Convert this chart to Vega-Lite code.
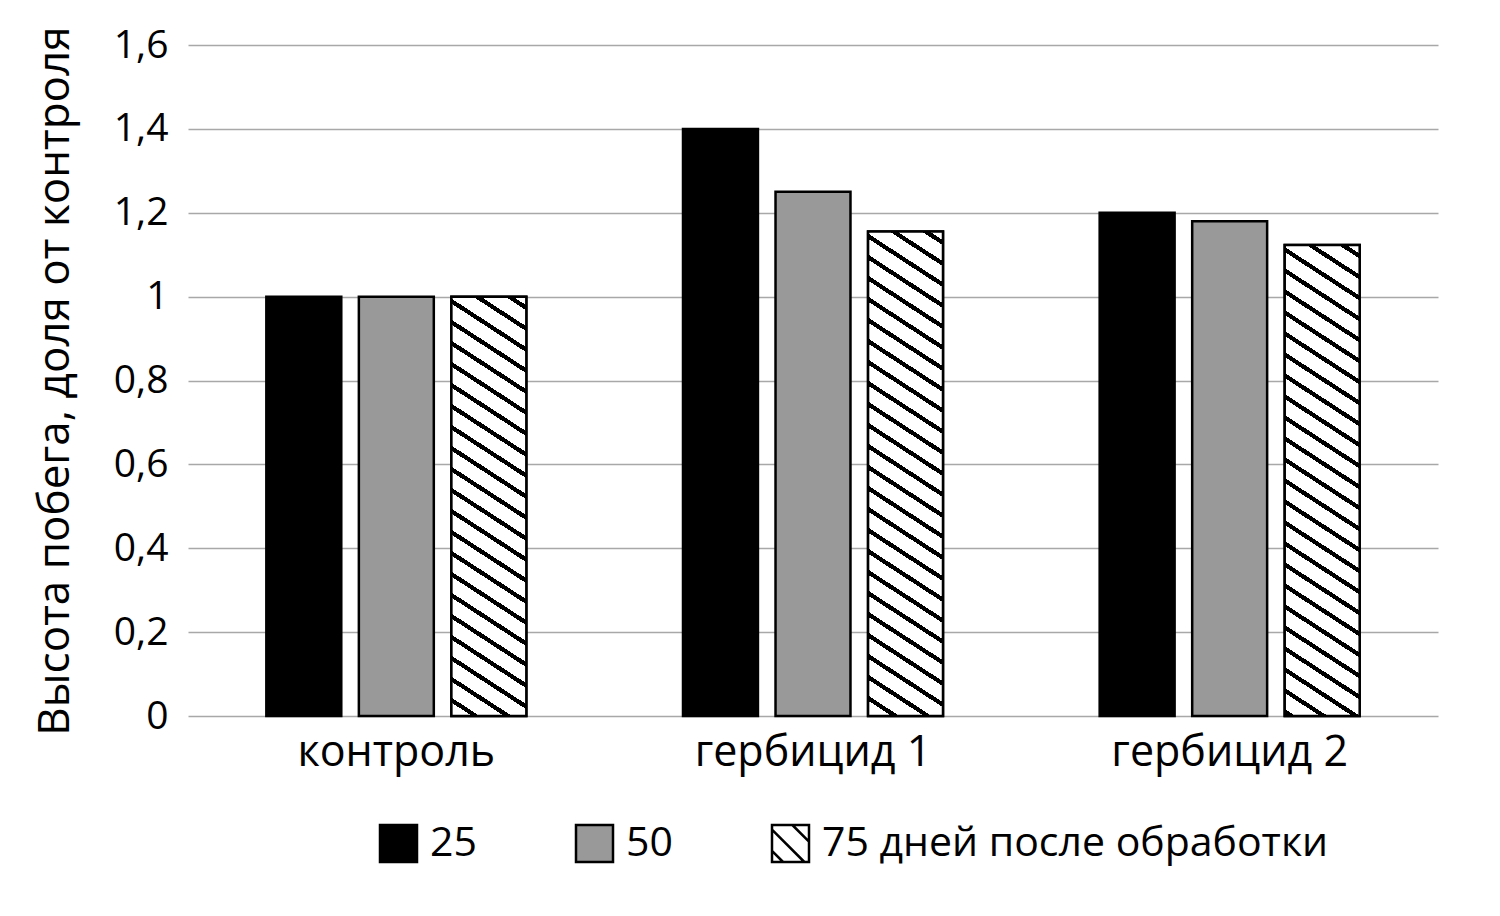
{
  "$schema": "https://vega.github.io/schema/vega-lite/v6.json",
  "description": "Высота побега после обработки гербицидами, доля от контроля",
  "width": 1250,
  "height": 671,
  "autosize": {"type": "none"},
  "padding": {"left": 188, "top": 45, "right": 62, "bottom": 200},
  "config": {
    "view": {"stroke": null},
    "font": "Open Sans",
    "axis": {"labelColor": "#000000", "titleColor": "#000000", "labelFont": "Open Sans", "titleFont": "Open Sans"},
    "legend": {"labelColor": "#000000", "labelFont": "Open Sans"}
  },
  "data": {
    "values": [
      {"group": "контроль", "series": "25", "value": 1},
      {"group": "контроль", "series": "50", "value": 1},
      {"group": "контроль", "series": "75 дней после обработки", "value": 1},
      {"group": "гербицид 1", "series": "25", "value": 1.4},
      {"group": "гербицид 1", "series": "50", "value": 1.25},
      {"group": "гербицид 1", "series": "75 дней после обработки", "value": 1.155},
      {"group": "гербицид 2", "series": "25", "value": 1.2},
      {"group": "гербицид 2", "series": "50", "value": 1.18},
      {"group": "гербицид 2", "series": "75 дней после обработки", "value": 1.123}
    ]
  },
  "encoding": {
    "x": {
      "field": "group",
      "type": "nominal",
      "sort": ["контроль", "гербицид 1", "гербицид 2"],
      "scale": {"paddingInner": 0.376, "paddingOuter": 0.188},
      "axis": {
        "title": null,
        "domain": false,
        "ticks": false,
        "tickSize": 0,
        "labelAngle": 0,
        "labelFontSize": 43,
        "labelLimit": 600,
        "labelPadding": 49,
        "labelBaseline": "alphabetic"
      }
    },
    "xOffset": {
      "field": "series",
      "type": "nominal",
      "scale": {"domain": ["25", "50", "75 дней после обработки"], "paddingInner": 0.19, "paddingOuter": 0}
    },
    "y": {
      "field": "value",
      "type": "quantitative",
      "scale": {"domain": [0, 1.6]},
      "axis": {
        "values": [0, 0.2, 0.4, 0.6, 0.8, 1, 1.2, 1.4, 1.6],
        "labelExpr": "replace(format(datum.value, '~g'), '.', ',')",
        "title": "Высота побега, доля от контроля",
        "titleFontSize": 44,
        "titleFontWeight": "normal",
        "titleX": -120,
        "titleBaseline": "alphabetic",
        "grid": true,
        "gridColor": "#a8a8a8",
        "gridWidth": 1.5,
        "domain": false,
        "ticks": false,
        "tickSize": 0,
        "labelPadding": 20,
        "labelFontSize": 39
      }
    }
  },
  "layer": [
    {
      "mark": {"type": "bar", "stroke": "#000000", "strokeWidth": 2.5},
      "encoding": {
        "fill": {
          "field": "series",
          "type": "nominal",
          "scale": {"domain": ["25", "50", "75 дней после обработки"], "range": ["#000000", "#999999", "#ffffff"]},
          "legend": {
            "title": null,
            "orient": "none",
            "legendX": 190,
            "legendY": 778,
            "direction": "horizontal",
            "padding": 0,
            "symbolSize": 1369,
            "symbolStrokeWidth": 2.5,
            "symbolStrokeColor": "#000000",
            "labelFontSize": 41,
            "labelOffset": 11,
            "labelLimit": 1000,
            "columnPadding": 94,
            "encode": {
              "symbols": {
                "update": {
                  "shape": {"signal": "datum.value === '75 дней после обработки' ? 'M-1,-1H1V1H-1Z M0.1,-1L1,-0.1 M-1,-0.75L0.75,1 M-1,0.4L-0.4,1' : 'square'"},
                  "stroke": {"value": "#000000"},
                  "strokeWidth": {"value": 2.5}
                }
              }
            }
          }
        }
      }
    },
    {
      "transform": [{"filter": "datum.group === 'контроль' && datum.series === '75 дней после обработки'"}],
      "mark": {
        "type": "bar", "stroke": "#000000", "strokeWidth": 2.5,
        "fill": {
          "gradient": "linear", "x1": 1, "y1": 0, "x2": 0.84687, "y2": 1.31742,
          "stops": [
            {"offset": 0, "color": "#ffffff"},
            {"offset": 0.0155, "color": "#ffffff"}, {"offset": 0.0155, "color": "#000000"}, {"offset": 0.0245, "color": "#000000"}, {"offset": 0.0245, "color": "#ffffff"},
            {"offset": 0.053, "color": "#ffffff"}, {"offset": 0.053, "color": "#000000"}, {"offset": 0.062, "color": "#000000"}, {"offset": 0.062, "color": "#ffffff"},
            {"offset": 0.0905, "color": "#ffffff"}, {"offset": 0.0905, "color": "#000000"}, {"offset": 0.0995, "color": "#000000"}, {"offset": 0.0995, "color": "#ffffff"},
            {"offset": 0.128, "color": "#ffffff"}, {"offset": 0.128, "color": "#000000"}, {"offset": 0.137, "color": "#000000"}, {"offset": 0.137, "color": "#ffffff"},
            {"offset": 0.1655, "color": "#ffffff"}, {"offset": 0.1655, "color": "#000000"}, {"offset": 0.1745, "color": "#000000"}, {"offset": 0.1745, "color": "#ffffff"},
            {"offset": 0.203, "color": "#ffffff"}, {"offset": 0.203, "color": "#000000"}, {"offset": 0.212, "color": "#000000"}, {"offset": 0.212, "color": "#ffffff"},
            {"offset": 0.2405, "color": "#ffffff"}, {"offset": 0.2405, "color": "#000000"}, {"offset": 0.2495, "color": "#000000"}, {"offset": 0.2495, "color": "#ffffff"},
            {"offset": 0.278, "color": "#ffffff"}, {"offset": 0.278, "color": "#000000"}, {"offset": 0.287, "color": "#000000"}, {"offset": 0.287, "color": "#ffffff"},
            {"offset": 0.3155, "color": "#ffffff"}, {"offset": 0.3155, "color": "#000000"}, {"offset": 0.3245, "color": "#000000"}, {"offset": 0.3245, "color": "#ffffff"},
            {"offset": 0.353, "color": "#ffffff"}, {"offset": 0.353, "color": "#000000"}, {"offset": 0.362, "color": "#000000"}, {"offset": 0.362, "color": "#ffffff"},
            {"offset": 0.3905, "color": "#ffffff"}, {"offset": 0.3905, "color": "#000000"}, {"offset": 0.3995, "color": "#000000"}, {"offset": 0.3995, "color": "#ffffff"},
            {"offset": 0.428, "color": "#ffffff"}, {"offset": 0.428, "color": "#000000"}, {"offset": 0.437, "color": "#000000"}, {"offset": 0.437, "color": "#ffffff"},
            {"offset": 0.4655, "color": "#ffffff"}, {"offset": 0.4655, "color": "#000000"}, {"offset": 0.4745, "color": "#000000"}, {"offset": 0.4745, "color": "#ffffff"},
            {"offset": 0.503, "color": "#ffffff"}, {"offset": 0.503, "color": "#000000"}, {"offset": 0.512, "color": "#000000"}, {"offset": 0.512, "color": "#ffffff"},
            {"offset": 0.5405, "color": "#ffffff"}, {"offset": 0.5405, "color": "#000000"}, {"offset": 0.5495, "color": "#000000"}, {"offset": 0.5495, "color": "#ffffff"},
            {"offset": 0.578, "color": "#ffffff"}, {"offset": 0.578, "color": "#000000"}, {"offset": 0.587, "color": "#000000"}, {"offset": 0.587, "color": "#ffffff"},
            {"offset": 0.6155, "color": "#ffffff"}, {"offset": 0.6155, "color": "#000000"}, {"offset": 0.6245, "color": "#000000"}, {"offset": 0.6245, "color": "#ffffff"},
            {"offset": 0.653, "color": "#ffffff"}, {"offset": 0.653, "color": "#000000"}, {"offset": 0.662, "color": "#000000"}, {"offset": 0.662, "color": "#ffffff"},
            {"offset": 0.6905, "color": "#ffffff"}, {"offset": 0.6905, "color": "#000000"}, {"offset": 0.6995, "color": "#000000"}, {"offset": 0.6995, "color": "#ffffff"},
            {"offset": 0.728, "color": "#ffffff"}, {"offset": 0.728, "color": "#000000"}, {"offset": 0.737, "color": "#000000"}, {"offset": 0.737, "color": "#ffffff"},
            {"offset": 0.7655, "color": "#ffffff"}, {"offset": 0.7655, "color": "#000000"}, {"offset": 0.7745, "color": "#000000"}, {"offset": 0.7745, "color": "#ffffff"},
            {"offset": 0.803, "color": "#ffffff"}, {"offset": 0.803, "color": "#000000"}, {"offset": 0.812, "color": "#000000"}, {"offset": 0.812, "color": "#ffffff"},
            {"offset": 1, "color": "#ffffff"}
          ]
        }
      }
    },
    {
      "transform": [{"filter": "datum.group === 'гербицид 1' && datum.series === '75 дней после обработки'"}],
      "mark": {
        "type": "bar", "stroke": "#000000", "strokeWidth": 2.5,
        "fill": {
          "gradient": "linear", "x1": 1, "y1": 0, "x2": 0.88482, "y2": 1.14449,
          "stops": [
            {"offset": 0, "color": "#ffffff"},
            {"offset": 0.0155, "color": "#ffffff"}, {"offset": 0.0155, "color": "#000000"}, {"offset": 0.0245, "color": "#000000"}, {"offset": 0.0245, "color": "#ffffff"},
            {"offset": 0.053, "color": "#ffffff"}, {"offset": 0.053, "color": "#000000"}, {"offset": 0.062, "color": "#000000"}, {"offset": 0.062, "color": "#ffffff"},
            {"offset": 0.0905, "color": "#ffffff"}, {"offset": 0.0905, "color": "#000000"}, {"offset": 0.0995, "color": "#000000"}, {"offset": 0.0995, "color": "#ffffff"},
            {"offset": 0.128, "color": "#ffffff"}, {"offset": 0.128, "color": "#000000"}, {"offset": 0.137, "color": "#000000"}, {"offset": 0.137, "color": "#ffffff"},
            {"offset": 0.1655, "color": "#ffffff"}, {"offset": 0.1655, "color": "#000000"}, {"offset": 0.1745, "color": "#000000"}, {"offset": 0.1745, "color": "#ffffff"},
            {"offset": 0.203, "color": "#ffffff"}, {"offset": 0.203, "color": "#000000"}, {"offset": 0.212, "color": "#000000"}, {"offset": 0.212, "color": "#ffffff"},
            {"offset": 0.2405, "color": "#ffffff"}, {"offset": 0.2405, "color": "#000000"}, {"offset": 0.2495, "color": "#000000"}, {"offset": 0.2495, "color": "#ffffff"},
            {"offset": 0.278, "color": "#ffffff"}, {"offset": 0.278, "color": "#000000"}, {"offset": 0.287, "color": "#000000"}, {"offset": 0.287, "color": "#ffffff"},
            {"offset": 0.3155, "color": "#ffffff"}, {"offset": 0.3155, "color": "#000000"}, {"offset": 0.3245, "color": "#000000"}, {"offset": 0.3245, "color": "#ffffff"},
            {"offset": 0.353, "color": "#ffffff"}, {"offset": 0.353, "color": "#000000"}, {"offset": 0.362, "color": "#000000"}, {"offset": 0.362, "color": "#ffffff"},
            {"offset": 0.3905, "color": "#ffffff"}, {"offset": 0.3905, "color": "#000000"}, {"offset": 0.3995, "color": "#000000"}, {"offset": 0.3995, "color": "#ffffff"},
            {"offset": 0.428, "color": "#ffffff"}, {"offset": 0.428, "color": "#000000"}, {"offset": 0.437, "color": "#000000"}, {"offset": 0.437, "color": "#ffffff"},
            {"offset": 0.4655, "color": "#ffffff"}, {"offset": 0.4655, "color": "#000000"}, {"offset": 0.4745, "color": "#000000"}, {"offset": 0.4745, "color": "#ffffff"},
            {"offset": 0.503, "color": "#ffffff"}, {"offset": 0.503, "color": "#000000"}, {"offset": 0.512, "color": "#000000"}, {"offset": 0.512, "color": "#ffffff"},
            {"offset": 0.5405, "color": "#ffffff"}, {"offset": 0.5405, "color": "#000000"}, {"offset": 0.5495, "color": "#000000"}, {"offset": 0.5495, "color": "#ffffff"},
            {"offset": 0.578, "color": "#ffffff"}, {"offset": 0.578, "color": "#000000"}, {"offset": 0.587, "color": "#000000"}, {"offset": 0.587, "color": "#ffffff"},
            {"offset": 0.6155, "color": "#ffffff"}, {"offset": 0.6155, "color": "#000000"}, {"offset": 0.6245, "color": "#000000"}, {"offset": 0.6245, "color": "#ffffff"},
            {"offset": 0.653, "color": "#ffffff"}, {"offset": 0.653, "color": "#000000"}, {"offset": 0.662, "color": "#000000"}, {"offset": 0.662, "color": "#ffffff"},
            {"offset": 0.6905, "color": "#ffffff"}, {"offset": 0.6905, "color": "#000000"}, {"offset": 0.6995, "color": "#000000"}, {"offset": 0.6995, "color": "#ffffff"},
            {"offset": 0.728, "color": "#ffffff"}, {"offset": 0.728, "color": "#000000"}, {"offset": 0.737, "color": "#000000"}, {"offset": 0.737, "color": "#ffffff"},
            {"offset": 0.7655, "color": "#ffffff"}, {"offset": 0.7655, "color": "#000000"}, {"offset": 0.7745, "color": "#000000"}, {"offset": 0.7745, "color": "#ffffff"},
            {"offset": 0.803, "color": "#ffffff"}, {"offset": 0.803, "color": "#000000"}, {"offset": 0.812, "color": "#000000"}, {"offset": 0.812, "color": "#ffffff"},
            {"offset": 0.8405, "color": "#ffffff"}, {"offset": 0.8405, "color": "#000000"}, {"offset": 0.8495, "color": "#000000"}, {"offset": 0.8495, "color": "#ffffff"},
            {"offset": 0.878, "color": "#ffffff"}, {"offset": 0.878, "color": "#000000"}, {"offset": 0.887, "color": "#000000"}, {"offset": 0.887, "color": "#ffffff"},
            {"offset": 0.9155, "color": "#ffffff"}, {"offset": 0.9155, "color": "#000000"}, {"offset": 0.9245, "color": "#000000"}, {"offset": 0.9245, "color": "#ffffff"},
            {"offset": 1, "color": "#ffffff"}
          ]
        }
      }
    },
    {
      "transform": [{"filter": "datum.group === 'гербицид 2' && datum.series === '75 дней после обработки'"}],
      "mark": {
        "type": "bar", "stroke": "#000000", "strokeWidth": 2.5,
        "fill": {
          "gradient": "linear", "x1": 1, "y1": 0, "x2": 0.87824, "y2": 1.17637,
          "stops": [
            {"offset": 0, "color": "#ffffff"},
            {"offset": 0.0155, "color": "#ffffff"}, {"offset": 0.0155, "color": "#000000"}, {"offset": 0.0245, "color": "#000000"}, {"offset": 0.0245, "color": "#ffffff"},
            {"offset": 0.053, "color": "#ffffff"}, {"offset": 0.053, "color": "#000000"}, {"offset": 0.062, "color": "#000000"}, {"offset": 0.062, "color": "#ffffff"},
            {"offset": 0.0905, "color": "#ffffff"}, {"offset": 0.0905, "color": "#000000"}, {"offset": 0.0995, "color": "#000000"}, {"offset": 0.0995, "color": "#ffffff"},
            {"offset": 0.128, "color": "#ffffff"}, {"offset": 0.128, "color": "#000000"}, {"offset": 0.137, "color": "#000000"}, {"offset": 0.137, "color": "#ffffff"},
            {"offset": 0.1655, "color": "#ffffff"}, {"offset": 0.1655, "color": "#000000"}, {"offset": 0.1745, "color": "#000000"}, {"offset": 0.1745, "color": "#ffffff"},
            {"offset": 0.203, "color": "#ffffff"}, {"offset": 0.203, "color": "#000000"}, {"offset": 0.212, "color": "#000000"}, {"offset": 0.212, "color": "#ffffff"},
            {"offset": 0.2405, "color": "#ffffff"}, {"offset": 0.2405, "color": "#000000"}, {"offset": 0.2495, "color": "#000000"}, {"offset": 0.2495, "color": "#ffffff"},
            {"offset": 0.278, "color": "#ffffff"}, {"offset": 0.278, "color": "#000000"}, {"offset": 0.287, "color": "#000000"}, {"offset": 0.287, "color": "#ffffff"},
            {"offset": 0.3155, "color": "#ffffff"}, {"offset": 0.3155, "color": "#000000"}, {"offset": 0.3245, "color": "#000000"}, {"offset": 0.3245, "color": "#ffffff"},
            {"offset": 0.353, "color": "#ffffff"}, {"offset": 0.353, "color": "#000000"}, {"offset": 0.362, "color": "#000000"}, {"offset": 0.362, "color": "#ffffff"},
            {"offset": 0.3905, "color": "#ffffff"}, {"offset": 0.3905, "color": "#000000"}, {"offset": 0.3995, "color": "#000000"}, {"offset": 0.3995, "color": "#ffffff"},
            {"offset": 0.428, "color": "#ffffff"}, {"offset": 0.428, "color": "#000000"}, {"offset": 0.437, "color": "#000000"}, {"offset": 0.437, "color": "#ffffff"},
            {"offset": 0.4655, "color": "#ffffff"}, {"offset": 0.4655, "color": "#000000"}, {"offset": 0.4745, "color": "#000000"}, {"offset": 0.4745, "color": "#ffffff"},
            {"offset": 0.503, "color": "#ffffff"}, {"offset": 0.503, "color": "#000000"}, {"offset": 0.512, "color": "#000000"}, {"offset": 0.512, "color": "#ffffff"},
            {"offset": 0.5405, "color": "#ffffff"}, {"offset": 0.5405, "color": "#000000"}, {"offset": 0.5495, "color": "#000000"}, {"offset": 0.5495, "color": "#ffffff"},
            {"offset": 0.578, "color": "#ffffff"}, {"offset": 0.578, "color": "#000000"}, {"offset": 0.587, "color": "#000000"}, {"offset": 0.587, "color": "#ffffff"},
            {"offset": 0.6155, "color": "#ffffff"}, {"offset": 0.6155, "color": "#000000"}, {"offset": 0.6245, "color": "#000000"}, {"offset": 0.6245, "color": "#ffffff"},
            {"offset": 0.653, "color": "#ffffff"}, {"offset": 0.653, "color": "#000000"}, {"offset": 0.662, "color": "#000000"}, {"offset": 0.662, "color": "#ffffff"},
            {"offset": 0.6905, "color": "#ffffff"}, {"offset": 0.6905, "color": "#000000"}, {"offset": 0.6995, "color": "#000000"}, {"offset": 0.6995, "color": "#ffffff"},
            {"offset": 0.728, "color": "#ffffff"}, {"offset": 0.728, "color": "#000000"}, {"offset": 0.737, "color": "#000000"}, {"offset": 0.737, "color": "#ffffff"},
            {"offset": 0.7655, "color": "#ffffff"}, {"offset": 0.7655, "color": "#000000"}, {"offset": 0.7745, "color": "#000000"}, {"offset": 0.7745, "color": "#ffffff"},
            {"offset": 0.803, "color": "#ffffff"}, {"offset": 0.803, "color": "#000000"}, {"offset": 0.812, "color": "#000000"}, {"offset": 0.812, "color": "#ffffff"},
            {"offset": 0.8405, "color": "#ffffff"}, {"offset": 0.8405, "color": "#000000"}, {"offset": 0.8495, "color": "#000000"}, {"offset": 0.8495, "color": "#ffffff"},
            {"offset": 0.878, "color": "#ffffff"}, {"offset": 0.878, "color": "#000000"}, {"offset": 0.887, "color": "#000000"}, {"offset": 0.887, "color": "#ffffff"},
            {"offset": 0.9155, "color": "#ffffff"}, {"offset": 0.9155, "color": "#000000"}, {"offset": 0.9245, "color": "#000000"}, {"offset": 0.9245, "color": "#ffffff"},
            {"offset": 1, "color": "#ffffff"}
          ]
        }
      }
    }
  ]
}
